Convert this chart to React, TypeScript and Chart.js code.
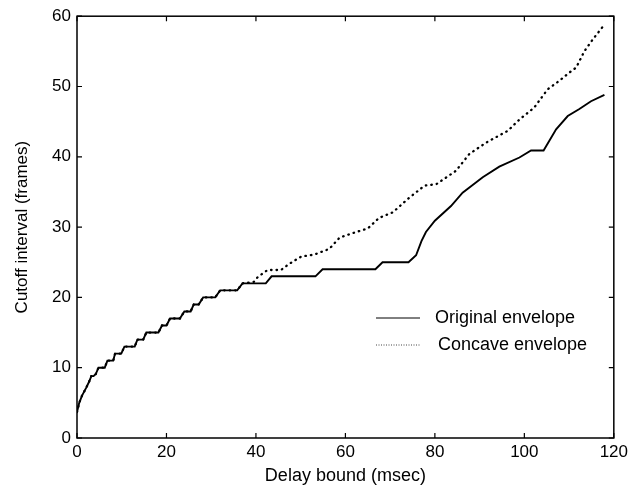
import React, { useEffect, useRef } from "react";
import { Chart, registerables } from "chart.js";

Chart.register(...registerables);

const originalX = [0, 0.5, 1.1, 1.6, 2.1, 2.7, 3.2, 3.7, 4.2, 4.8, 6.2, 6.8, 8.1, 8.5, 9.9, 10.6, 12.9, 13.5, 14.8, 15.5, 18.2, 19, 20, 20.8, 23, 24, 25.4, 26.1, 27.2, 28.2, 30.9, 32, 35.8, 37, 42.2, 43.5, 53.3, 54.9, 66.7, 68.3, 74.1, 75.8, 77, 78, 80, 83.6, 86.2, 90.7, 94.4, 98.9, 101.5, 104.3, 107.1, 109.7, 112.3, 114.9, 117.9];
const originalY = [3.7, 5, 6, 6.6, 7.2, 8, 8.8, 8.8, 9.1, 10, 10, 11, 11, 12, 12, 13, 13, 14, 14, 15, 15, 16, 16, 17, 17, 18, 18, 19, 19, 20, 20, 21, 21, 22, 22, 23, 23, 24, 24, 25, 25, 26, 28, 29.3, 30.9, 33, 34.9, 37.1, 38.6, 39.9, 40.9, 40.9, 43.9, 45.8, 46.8, 47.9, 48.8];

const concaveX = [0, 0.5, 1.1, 1.6, 2.1, 2.7, 3.2, 3.7, 4.2, 4.8, 6.2, 6.8, 8.1, 8.5, 9.9, 10.6, 12.9, 13.5, 14.8, 15.5, 18.2, 19, 20, 20.8, 23, 24, 25.4, 26.1, 27.2, 28.2, 30.9, 32, 35.8, 37, 39.5, 40.4, 42.6, 45.6, 47.5, 50.1, 53.1, 56.4, 58.7, 62.4, 65, 67.5, 70.6, 74.3, 77.7, 80.3, 84.7, 87.7, 91.4, 96.3, 98.9, 102.2, 105.2, 107.8, 110.1, 111.6, 113.4, 115.3, 117.9];
const concaveY = [3.7, 5, 6, 6.6, 7.2, 8, 8.8, 8.8, 9.1, 10, 10, 11, 11, 12, 12, 13, 13, 14, 14, 15, 15, 16, 16, 17, 17, 18, 18, 19, 19, 20, 20, 21, 21, 22, 22.2, 22.9, 23.9, 23.9, 24.8, 25.8, 26.1, 26.9, 28.5, 29.3, 29.8, 31.3, 32.1, 34.2, 35.9, 36.1, 38, 40.4, 42, 43.7, 45.3, 47, 49.6, 50.8, 52, 52.7, 55, 56.7, 58.8];

const xTicks = [0, 20, 40, 60, 80, 100, 120];
const yTicks = [0, 10, 20, 30, 40, 50, 60];
const seriesNames = ["Original envelope", "Concave envelope"];
const xTitle = "Delay bound (msec)";
const yTitle = "Cutoff interval (frames)";

const FONT = "'Liberation Sans', Arial, sans-serif";

const framePlugin = {
  id: "frame",
  afterDatasetsDraw(chart: any) {
    const { ctx, chartArea: a, scales } = chart;
    const xs = scales.x, ys = scales.y;
    ctx.save();
    ctx.strokeStyle = "#000";
    ctx.lineWidth = 1.5;
    ctx.strokeRect(a.left, a.top, a.right - a.left, a.bottom - a.top);
    ctx.lineWidth = 1.2;
    const L = 5;
    ctx.beginPath();
    for (const t of xTicks) {
      const p = xs.getPixelForValue(t);
      ctx.moveTo(p, a.bottom); ctx.lineTo(p, a.bottom - L);
      ctx.moveTo(p, a.top); ctx.lineTo(p, a.top + L);
    }
    for (const t of yTicks) {
      const p = ys.getPixelForValue(t);
      ctx.moveTo(a.left, p); ctx.lineTo(a.left + L, p);
      ctx.moveTo(a.right, p); ctx.lineTo(a.right - L, p);
    }
    ctx.stroke();

    // legend
    const lx0 = 376, lx1 = 420;
    const y1 = 318, y2 = 345;
    ctx.lineWidth = 1;
    ctx.strokeStyle = "#000";
    ctx.beginPath(); ctx.moveTo(lx0, y1); ctx.lineTo(lx1, y1); ctx.stroke();
    ctx.strokeStyle = "#444";
    ctx.setLineDash([1, 1.5]);
    ctx.beginPath(); ctx.moveTo(lx0, y2); ctx.lineTo(lx1, y2); ctx.stroke();
    ctx.setLineDash([]);
    ctx.fillStyle = "#000";
    ctx.font = "18px " + FONT;
    ctx.textBaseline = "middle";
    ctx.textAlign = "left";
    ctx.fillText(seriesNames[0], 435, y1);
    ctx.fillText(seriesNames[1], 438, y2);
    ctx.restore();
  },
};

export default function App() {
  const ref = useRef<HTMLCanvasElement | null>(null);
  useEffect(() => {
    document.body.style.margin = "0";
    const canvas = ref.current!;
    const chart = new Chart(canvas, {
      type: "scatter",
      data: {
        datasets: [
          {
            label: seriesNames[1],
            data: concaveX.map((x, i) => ({ x, y: concaveY[i] })),
            order: 2,
            showLine: true,
            borderColor: "#000",
            borderWidth: 2.3,
            borderDash: [0.5, 5],
            borderCapStyle: "round",
            pointRadius: 0,
            tension: 0,
          },
          {
            label: seriesNames[0],
            data: originalX.map((x, i) => ({ x, y: originalY[i] })),
            order: 1,
            showLine: true,
            borderColor: "#000",
            borderWidth: 1.9,
            pointRadius: 0,
            tension: 0,
          },
        ],
      },
      options: {
        animation: false,
        responsive: false,
        devicePixelRatio: 1,
        layout: { padding: { left: 0, top: 15, right: 16, bottom: 0 } },
        plugins: { legend: { display: false }, tooltip: { enabled: false } },
        scales: {
          x: {
            type: "linear",
            min: 0,
            max: 120,
            afterFit: (s: any) => { s.height = 51; },
            afterBuildTicks: (s: any) => { s.ticks = xTicks.map((v) => ({ value: v })); },
            grid: { display: false, drawTicks: false },
            border: { display: false },
            ticks: { color: "#000", font: { family: FONT, size: 17 }, padding: 4, maxRotation: 0 },
            title: { display: true, text: xTitle, color: "#000", font: { family: FONT, size: 18 }, padding: { top: 0, bottom: 2 } },
          },
          y: {
            type: "linear",
            min: 0,
            max: 60,
            afterFit: (s: any) => { s.width = 77; },
            afterBuildTicks: (s: any) => { s.ticks = yTicks.map((v) => ({ value: v })); },
            grid: { display: false, drawTicks: false },
            border: { display: false },
            ticks: { color: "#000", font: { family: FONT, size: 17 }, padding: 6 },
            title: { display: true, text: yTitle, color: "#000", font: { family: FONT, size: 17 }, padding: { top: 12, bottom: 0 } },
          },
        },
      },
      plugins: [framePlugin],
    } as any);
    return () => chart.destroy();
  }, []);
  return <canvas ref={ref} width={632} height={489} style={{ display: "block" }} />;
}
